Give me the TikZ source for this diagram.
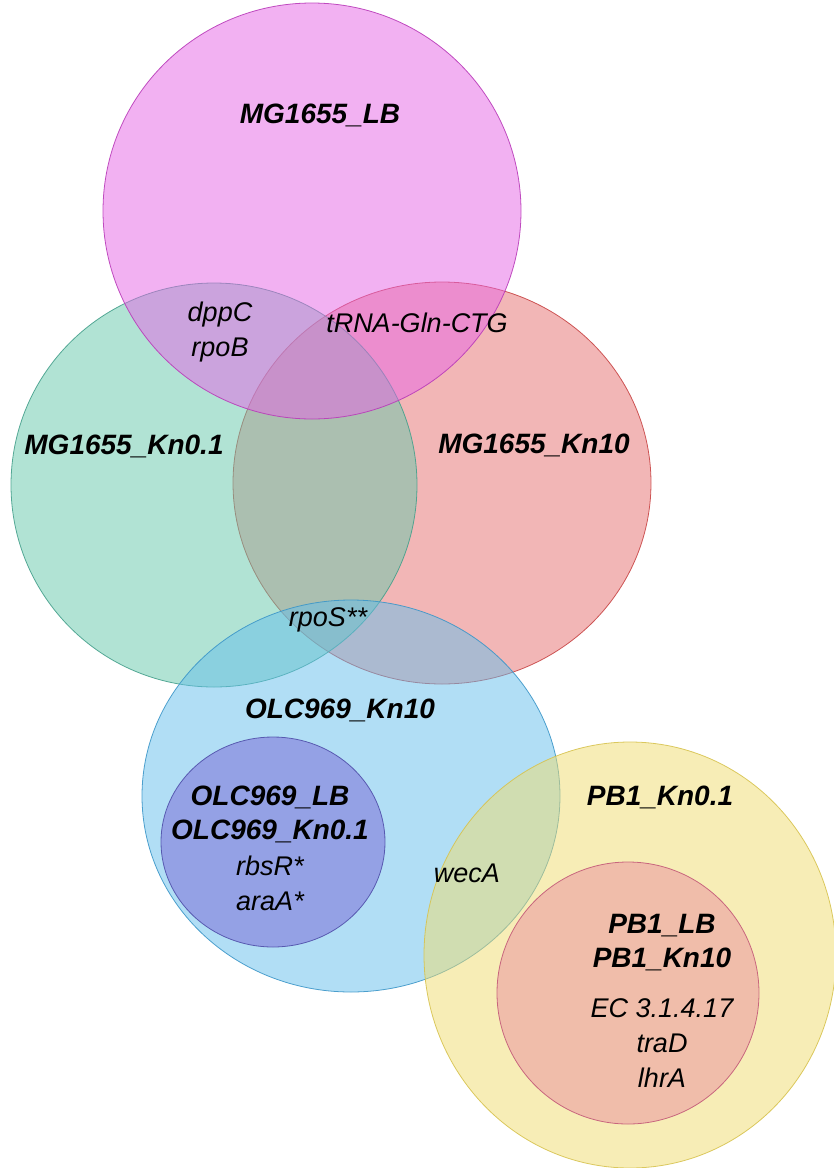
\documentclass[tikz,border=0pt]{standalone}
\usepackage{fontspec}
\setmainfont{Liberation Sans}
\usetikzlibrary{positioning}
\definecolor{lbpink}{RGB}{230,100,230}
\definecolor{lbpinkline}{RGB}{185,60,185}
\definecolor{kngreen}{RGB}{100,200,170}
\definecolor{kngreenline}{RGB}{70,160,140}
\definecolor{knred}{RGB}{230,110,110}
\definecolor{knredline}{RGB}{200,70,70}
\definecolor{olcblue}{RGB}{100,190,235}
\definecolor{olcblueline}{RGB}{60,150,200}
\definecolor{olcpurple}{RGB}{120,100,215}
\definecolor{olcpurpleline}{RGB}{80,80,170}
\definecolor{pbyellow}{RGB}{240,220,110}
\definecolor{pbyellowline}{RGB}{215,195,80}
\definecolor{pbred}{RGB}{233,143,158}
\definecolor{pbredline}{RGB}{195,90,120}

\begin{document}
\begin{tikzpicture}[
  x=1pt,y=-1pt,
  venn/.style={fill opacity=0.5,draw opacity=0.9,line width=0.8pt},
  strain/.style={font=\fontsize{28}{34}\selectfont\bfseries\itshape,align=center,inner sep=0pt},
  gene/.style={font=\fontsize{27}{35}\selectfont\itshape,align=center,inner sep=0pt}]
  \useasboundingbox (0,0) rectangle (834,1168);
  % sets
  \draw[venn,fill=knred,draw=knredline] (442,483) ellipse [x radius=209pt,y radius=201pt];
  \draw[venn,fill=kngreen,draw=kngreenline] (214,485) ellipse [x radius=203pt,y radius=202pt];
  \draw[venn,fill=lbpink,draw=lbpinkline] (312,211) ellipse [x radius=209pt,y radius=208pt];
  \draw[venn,fill=olcblue,draw=olcblueline] (351,796) ellipse [x radius=209pt,y radius=196pt];
  \draw[venn,fill=olcpurple,draw=olcpurpleline] (273,842) ellipse [x radius=112pt,y radius=105pt];
  \draw[venn,fill=pbyellow,draw=pbyellowline] (630,955) ellipse [x radius=206pt,y radius=213pt];
  \draw[venn,fill=pbred,draw=pbredline] (628,993) ellipse [x radius=131pt,y radius=131pt];
  % labels
  \node[strain] (mglb) at (320,115) {MG1655\_LB};
  \node[strain] (mgkn01) at (124,446) {MG1655\_Kn0.1};
  \node[strain] (mgkn10) at (534,445) {MG1655\_Kn10};
  \node[strain] (olckn10) at (340,710) {OLC969\_Kn10};
  \node[strain] (pbkn01) at (660,797) {PB1\_Kn0.1};
  \node[gene] (dppc) at (220,332) {dppC\\rpoB};
  \node[gene] (trna) at (417,323) {tRNA-Gln-CTG};
  \node[gene] (rpos) at (328,620) {rpoS**};
  \node[gene] (weca) at (467,873) {wecA};
  \node[strain] (olclb) at (270,814) {OLC969\_LB\\OLC969\_Kn0.1};
  \node[gene,below=13pt of olclb] (rbsr) {rbsR*\\araA*};
  \node[strain] (pblb) at (662,943) {PB1\_LB\\PB1\_Kn10};
  \node[gene,below=27pt of pblb] (ec) {EC 3.1.4.17\\traD\\lhrA};
\end{tikzpicture}
\end{document}
